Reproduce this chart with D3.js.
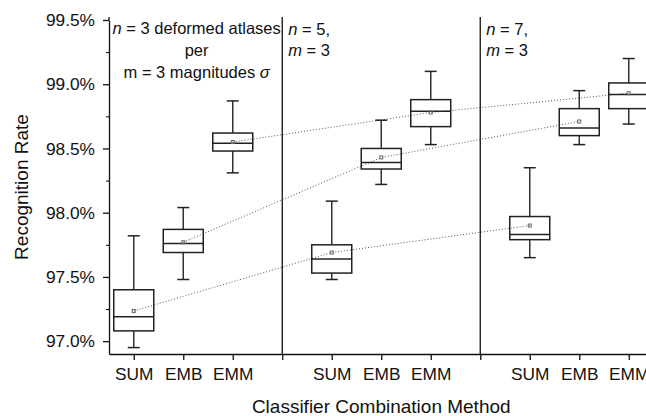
<!DOCTYPE html>
<html>
<head>
<meta charset="utf-8">
<script src="https://cdn.jsdelivr.net/npm/d3@7"></script>
<style>
  body { margin: 0; background: #fff; }
  svg { font-family: "Liberation Sans", Arial, sans-serif; }
</style>
</head>
<body>
<div id="chart"></div>
<script>
// categories: three methods repeated in three settings, gaps at slots 4 and 8
const methods = ["SUM", "EMB", "EMM"]
const slots = [1, 2, 3, 5, 6, 7, 9, 10, 11]
const separators = [4, 8]

// box statistics (%), order: n=3 SUM/EMB/EMM, n=5 ..., n=7 ...
const whiskerLow = [96.95, 97.48, 98.31, 97.48, 98.22, 98.53, 97.65, 98.53, 98.69]
const q1 =         [97.08, 97.69, 98.48, 97.53, 98.34, 98.67, 97.79, 98.60, 98.81]
const medians =    [97.19, 97.76, 98.54, 97.64, 98.39, 98.79, 97.83, 98.66, 98.92]
const q3 =         [97.40, 97.87, 98.62, 97.75, 98.50, 98.88, 97.97, 98.81, 99.01]
const whiskerHigh =[97.82, 98.04, 98.87, 98.09, 98.72, 99.10, 98.35, 98.95, 99.20]
const means =      [97.235, 97.77, 98.55, 97.69, 98.43, 98.78, 97.90, 98.71, 98.93]

const yTicks = [97.0, 97.5, 98.0, 98.5, 99.0, 99.5]
const yMinorTicks = [97.25, 97.75, 98.25, 98.75, 99.25]

const margin = {top: 20, left: 109}
const WIDTH = 646
const HEIGHT = 416
const plotBottom = 354
const boxW = 40
const capW = 6

const svg = d3.select("#chart")
  .append("svg")
  .attr("width", WIDTH)
  .attr("height", HEIGHT)

const x = d3.scaleLinear()
  .domain([0.5, 11.5])
  .range([margin.left, 653.5])

const y = d3.scaleLinear()
  .domain([96.9, 99.5])
  .range([plotBottom, margin.top])

// dotted lines joining the means of the same method
methods.forEach((m, k) => {
  const pts = [0, 1, 2].map(g => [x(slots[g * 3 + k]), y(means[g * 3 + k])])
  svg.append("path")
    .attr("d", d3.line()(pts))
    .attr("fill", "none")
    .attr("stroke", "#555")
    .attr("stroke-width", 1)
    .attr("stroke-dasharray", "1,2")
})

// separators
svg.selectAll(".sep")
  .data(separators)
  .enter()
  .append("line")
  .attr("class", "sep")
  .attr("x1", d => x(d)).attr("x2", d => x(d))
  .attr("y1", 17).attr("y2", plotBottom)
  .attr("stroke", "#111")
  .attr("stroke-width", 1.3)

const boxes = svg.selectAll(".box")
  .data(slots.map((s, i) => ({s, i})))
  .enter()
  .append("g")
  .attr("class", "box")

boxes.append("line")
  .attr("x1", d => x(d.s)).attr("x2", d => x(d.s))
  .attr("y1", d => y(whiskerHigh[d.i])).attr("y2", d => y(q3[d.i]))
  .attr("stroke", "#333").attr("stroke-width", 1.5)
boxes.append("line")
  .attr("x1", d => x(d.s)).attr("x2", d => x(d.s))
  .attr("y1", d => y(q1[d.i])).attr("y2", d => y(whiskerLow[d.i]))
  .attr("stroke", "#333").attr("stroke-width", 1.5)
boxes.append("line")
  .attr("x1", d => x(d.s) - capW).attr("x2", d => x(d.s) + capW)
  .attr("y1", d => y(whiskerHigh[d.i])).attr("y2", d => y(whiskerHigh[d.i]))
  .attr("stroke", "#222").attr("stroke-width", 1.5)
boxes.append("line")
  .attr("x1", d => x(d.s) - capW).attr("x2", d => x(d.s) + capW)
  .attr("y1", d => y(whiskerLow[d.i])).attr("y2", d => y(whiskerLow[d.i]))
  .attr("stroke", "#222").attr("stroke-width", 1.5)
boxes.append("rect")
  .attr("x", d => x(d.s) - boxW / 2)
  .attr("y", d => y(q3[d.i]))
  .attr("width", boxW)
  .attr("height", d => y(q1[d.i]) - y(q3[d.i]))
  .attr("fill", "none")
  .attr("stroke", "#222")
  .attr("stroke-width", 1.5)
boxes.append("line")
  .attr("x1", d => x(d.s) - boxW / 2).attr("x2", d => x(d.s) + boxW / 2)
  .attr("y1", d => y(medians[d.i])).attr("y2", d => y(medians[d.i]))
  .attr("stroke", "#222").attr("stroke-width", 1.5)
boxes.append("rect")
  .attr("x", d => x(d.s) - 1.5)
  .attr("y", d => y(means[d.i]) - 1.5)
  .attr("width", 3).attr("height", 3)
  .attr("fill", "none")
  .attr("stroke", "#666")
  .attr("stroke-width", 1)

// axes
const xAxis = d3.axisBottom(x)
  .tickValues(d3.range(1, 12))
  .tickSize(6)
  .tickSizeOuter(0)
  .tickPadding(8)
  .tickFormat(d => slots.includes(d) ? methods[slots.indexOf(d) % 3] : "")
svg.append("g")
  .attr("class", "x axis")
  .attr("transform", "translate(0," + plotBottom + ")")
  .call(xAxis)

const yAxis = d3.axisLeft(y)
  .tickValues(yTicks)
  .tickSize(6)
  .tickSizeOuter(0)
  .tickPadding(8)
  .tickFormat(d => d3.format(".1f")(d) + "%")
svg.append("g")
  .attr("class", "y axis")
  .attr("transform", "translate(" + margin.left + ",0)")
  .call(yAxis)

svg.append("g")
  .attr("transform", "translate(" + margin.left + ",0)")
  .call(d3.axisLeft(y).tickValues(yMinorTicks).tickSize(3).tickSizeOuter(0).tickFormat(""))
  .select(".domain").remove()

svg.selectAll(".axis .domain, .axis line").attr("stroke", "#111").attr("stroke-width", 1.3)
svg.selectAll(".axis text").attr("font-size", "17.3px").attr("fill", "#111")
  .attr("font-family", "'Liberation Sans', Arial, sans-serif")
// close the plot at the top-left
svg.append("line")
  .attr("x1", margin.left).attr("x2", margin.left)
  .attr("y1", 17).attr("y2", margin.top)
  .attr("stroke", "#111").attr("stroke-width", 1.3)

svg.append("text")
  .attr("x", x(6))
  .attr("y", 413)
  .attr("font-size", "19px")
  .attr("text-anchor", "middle")
  .attr("fill", "#111")
  .text("Classifier Combination Method")

svg.append("text")
  .attr("x", -(margin.top + plotBottom) / 2)
  .attr("y", 28)
  .attr("transform", "rotate(-90)")
  .attr("font-size", "19px")
  .attr("text-anchor", "middle")
  .attr("fill", "#111")
  .text("Recognition Rate")

// annotations
const note = (tx, ty, parts, anchor) => {
  const t = svg.append("text")
    .attr("x", tx).attr("y", ty)
    .attr("font-size", "16.5px")
    .attr("fill", "#111")
    .attr("text-anchor", anchor)
  parts.forEach(p => t.append("tspan")
    .attr("font-style", p[1] ? "italic" : "normal")
    .text(p[0]))
}
const cx1 = (x(0.5) + x(4)) / 2 + 1
note(cx1, 34, [["n", true], [" = 3 deformed atlases", false]], "middle")
note(cx1, 56, [["per", false]], "middle")
note(cx1, 78, [["m = 3 magnitudes ", false], ["σ", true]], "middle")
note(x(4) + 6, 35, [["n", true], [" = 5,", false]], "start")
note(x(4) + 6, 56, [["m", true], [" = 3", false]], "start")
note(x(8) + 6, 35, [["n", true], [" = 7,", false]], "start")
note(x(8) + 6, 56, [["m", true], [" = 3", false]], "start")
</script>
</body>
</html>
